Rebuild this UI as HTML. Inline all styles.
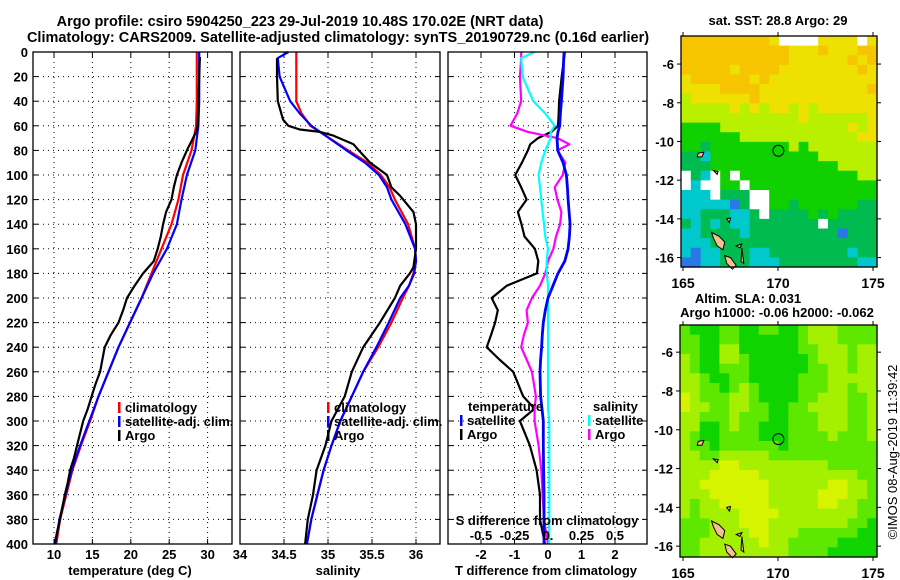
<!DOCTYPE html>
<html><head><meta charset="utf-8"><style>
html,body{margin:0;padding:0;background:#fff;}
svg{display:block;font-family:"Liberation Sans",sans-serif;font-weight:bold;}
</style></head><body>
<svg id="fig" width="900" height="580" viewBox="0 0 900 580" xmlns="http://www.w3.org/2000/svg">
<rect width="900" height="580" fill="#fff"/>
<text x="300" y="26" font-size="14.5" text-anchor="middle">Argo profile: csiro 5904250_223 29-Jul-2019 10.48S 170.02E (NRT data)</text>
<text x="338" y="42" font-size="14.5" text-anchor="middle">Climatology: CARS2009. Satellite-adjusted climatology: synTS_20190729.nc (0.16d earlier)</text>
<text x="778" y="25" font-size="13" text-anchor="middle">sat. SST: 28.8 Argo: 29</text>
<text x="748" y="303" font-size="13" text-anchor="middle">Altim. SLA: 0.031</text>
<text x="777" y="317" font-size="13" text-anchor="middle">Argo h1000: -0.06 h2000: -0.062</text>
<text transform="translate(897,452) rotate(-90)" font-size="13" font-weight="normal" text-anchor="middle">©IMOS 08-Aug-2019 11:39:42</text>
<g id="layer"></g>
</svg>
<script>
// ---- data ----
const depthTicks=[0,20,40,60,80,100,120,140,160,180,200,220,240,260,280,300,320,340,360,380,400];
const tTicks=[10,15,20,25,30];
const sTicks=[34.5,35,35.5,36];
const dtTicks=[-2,-1,0,1,2];
const dsTickLabels=["-0.5","-0.25","0.","0.25","0.5"];
const dsTicks=[-0.5,-0.25,0,0.25,0.5];

const tDepth=[0,20,40,60,70,80,100,120,140,160,180,200,220,240,260,280,300,320,340,360,380,400];
const tClim=[28.6,28.6,28.6,28.5,28.2,27.9,26.8,26.2,25.3,24.0,22.7,21.4,19.9,18.4,17.1,15.8,14.7,13.5,12.4,11.6,10.8,10.3];
const tSat=[28.9,28.9,28.9,28.8,28.6,28.4,27.3,26.6,26.0,24.7,22.9,21.4,19.9,18.4,17.1,15.8,14.6,13.4,12.3,11.5,10.7,10.2];
const argoDepth=[4,20,40,60,65,70,80,90,100,110,120,130,140,150,160,170,180,190,200,210,220,230,240,250,260,270,280,290,300,310,320,330,340,350,360,370,380,390,400];
const tArgo=[29.0,28.9,28.8,28.7,28.5,28.1,27.3,26.6,26.0,25.6,25.3,24.6,24.2,23.9,23.5,23.0,21.6,20.5,19.5,19.0,18.4,17.4,16.6,16.3,16.0,15.4,14.9,14.4,13.8,13.4,13.0,12.6,12.1,11.8,11.4,11.1,10.8,10.4,10.1];

const sDepth=[0,5,20,30,40,50,60,68,80,90,100,110,120,140,160,170,180,190,200,220,240,260,280,300,320,340,360,380,400];
const sClim=[34.64,34.64,34.64,34.64,34.64,34.70,34.80,34.97,35.23,35.45,35.60,35.70,35.76,35.91,35.99,36.0,35.97,35.92,35.85,35.72,35.57,35.40,35.27,35.14,35.04,34.95,34.88,34.81,34.76];
const sSat=[34.55,34.43,34.45,34.51,34.57,34.68,34.81,34.97,35.21,35.42,35.58,35.67,35.72,35.88,35.99,36.0,35.98,35.92,35.82,35.69,35.55,35.40,35.27,35.14,35.04,34.95,34.88,34.81,34.76];
const sArgoDepth=[5,20,40,55,60,63,65,68,75,80,90,100,110,117,130,140,160,175,180,190,200,220,240,260,280,300,320,340,360,380,400];
const sArgo=[34.42,34.42,34.43,34.49,34.55,34.68,34.91,35.06,35.29,35.35,35.48,35.67,35.72,35.82,35.97,36.0,36.0,35.97,35.93,35.82,35.76,35.59,35.40,35.27,35.19,35.04,34.97,34.87,34.83,34.77,34.74];

const dDepth=[0,5,20,40,50,60,65,70,75,80,90,100,110,120,130,140,150,160,170,180,190,200,210,220,230,240,250,260,280,290,300,320,340,360,380,400];
const dTArgo=[0.5,0.48,0.41,0.33,0.32,0.3,0.1,-0.3,-0.53,-0.6,-0.78,-0.98,-0.8,-0.64,-0.9,-0.79,-0.7,-0.39,-0.29,-0.33,-1.23,-1.68,-1.5,-1.58,-1.7,-1.83,-1.45,-1.04,-0.74,-0.4,-0.84,-0.54,-0.34,-0.24,-0.24,-0.09];
const dTSat=[0.48,0.47,0.45,0.4,0.37,0.35,0.3,0.27,0.28,0.29,0.45,0.55,0.58,0.6,0.63,0.66,0.64,0.6,0.5,0.3,0.15,0.0,-0.08,-0.14,-0.17,-0.19,-0.22,-0.24,-0.22,-0.18,-0.14,-0.14,-0.13,-0.12,-0.12,-0.12];
const dSSat=[-0.1,-0.2,-0.19,-0.11,-0.02,0.05,0.02,0.02,0.0,-0.02,-0.05,-0.07,-0.06,-0.05,-0.04,-0.03,-0.02,0.0,-0.01,-0.01,0,0,0,0,0,0,0,0,0,0,0.01,0.01,0.01,0.01,0.01,0.01];
const dSArgo=[-0.2,-0.2,-0.21,-0.2,-0.23,-0.28,-0.15,0.07,0.16,0.07,0.13,0.11,0.05,0.07,0.1,0.09,0.06,0.04,0.0,-0.02,-0.06,-0.12,-0.16,-0.15,-0.18,-0.2,-0.16,-0.12,-0.09,-0.1,-0.1,-0.07,-0.05,-0.04,-0.03,0.0];

const lonTicks=[165,170,175];
const latTicks=[-6,-8,-10,-12,-14,-16];
const argoLon=170.02, argoLat=-10.48;
const sstGrid=[
"OOOOOOOOOYWWWWYYYYWY","OOOOOOOOOOOYYYOYYYOO","OOOOOOOOOOOYYYYYYOYO","OOOOOYOOOOYYYYYYYYOY",
"YOOOOOOYOYYYYYYYYYYY","YYYYOOOOYYYYYYYYYYYO","yYYYYYYOYYYYYYYYYYYY","yyyyyYyYyYYyYyYYYYYY",
"yyyyyyyyyyyyYyyyyyyY","GGGGyyyyyyyyyyyyyYyY","GGGGGGyyyyyyyyyyyyYY","GGgGGGGGGGGyGyyyyyyy",
"ggCGGGGGGGGGGGyyyyyy","gggGGGGGGGGGGGGGyyyy","WgCWGWGGGGGGGGGGGGyy","WCWWGGWGGGGGGGGGGGGG",
"CCCWgggWWGGGGGGGGGGG","CCCCCBgWWGGgGGGGGGgg","CCgggCCgWggggGgGgggg","gCgCgCCgggggggWggggg",
"CCggggCgggggggggBggg","CCCgggggggggggggggg g","CBCCgggCCggggggggCgg","BBCCgggCCCggggggggCC"];
const slaGrid=[
"MDDDMMDDMMDDMLLLMMMM","MMDDMMDDDDDDMLLLMMMM","MMDDLLDDDDDDMMLLLMLL","LMDDLLMDDDDDDMLLLMLL",
"LMDDMMMDDDDDDMMLLMLL","LLMDDMMDDDDDMMMLLLLL","LLMMDMLMDDDDMMMLLMLL","YLMMMLLMDDDDMMLLLMML",
"YLLMMLLMMDDMMLLLLMML","LLMMMLMMMDDMMMLLLMML","LLDDMLMMDDDMMMLLLMML","LMDDMMMMDDDMMMMLMMML",
"LMMDMMMMMMDMMMMMMMMM","LLMMLLLLLMMMMMMMMMMM","LLLLYYLLLLLLLLLMMMMM","LLLYYYYYLLLLLLLLLLMM",
"LLYYYYYYYLLLLLLYYLLM","LLLYYYYYYLLLLLYYYLLM","LMLLYYYYYLLLLLYYLLMM","LMLLLLYYYYLLLLLLLLMM",
"MMMLLLYYYLLLLLLLLMMD","MMMLLLLYYLLLMMMMMMDD","MMLLLLLLYLLMMMMMDDDD","MMLLLLLLLLLMMMMDDDDD"];
const islands=[ // lon,lat pairs
 [[166.5,-14.7],[166.9,-14.9],[167.2,-15.2],[167.1,-15.6],[166.8,-15.4],[166.6,-15.0]],
 [[167.2,-15.9],[167.5,-16.0],[167.8,-16.4],[167.6,-16.6],[167.3,-16.3]],
 [[167.8,-15.4],[168.1,-15.3],[168.0,-15.5]],
 [[165.8,-10.6],[166.1,-10.55],[166.0,-10.8],[165.75,-10.8]],
 [[166.6,-11.5],[166.85,-11.55],[166.8,-11.7]],
 [[167.3,-14.0],[167.5,-13.95],[167.45,-14.2]],
 [[168.1,-15.5],[168.2,-16.3],[168.05,-16.2]]
];
// ---- scales ----
const y0=52, yScale=1.23;
const yD=d=>y0+d*yScale;
const xT=t=>54+(t-10)*7.68;
const xS=s=>240+(s-34)*88;
const xDT=v=>548+v*33.5;
const xDS=v=>548+v*134;
const NS="http://www.w3.org/2000/svg";
const layer=document.getElementById('layer');
function mk(tag,attrs,parent){const e=document.createElementNS(NS,tag);for(const k in attrs)e.setAttribute(k,attrs[k]);(parent||layer).appendChild(e);return e;}
function txt(x,y,s,anchor,size,parent){const e=mk('text',{x:x,y:y,'font-size':size||13,'text-anchor':anchor||'middle'},parent);e.textContent=s;return e;}

// ---- profile panels ----
const panels=[{n:'temperature-panel',x0:33,x1:232},{n:'salinity-panel',x0:240,x1:440},{n:'difference-panel',x0:448,x1:647}];
panels.forEach((p,i)=>{
  const g=mk('g',{});
  
  
  p.g=g;
  depthTicks.forEach((d,k)=>{
    if(k>0&&k<depthTicks.length-1){const l=mk('line',{x1:p.x0,x2:p.x1,y1:yD(d),y2:yD(d),stroke:'#000','stroke-width':1,'stroke-dasharray':'1,4'},g);
      
      }
    mk('line',{x1:p.x0,x2:p.x0+5,y1:yD(d),y2:yD(d),stroke:'#000'},g);
    mk('line',{x1:p.x1-5,x2:p.x1,y1:yD(d),y2:yD(d),stroke:'#000'},g);
  });
});
depthTicks.forEach(d=>{const t=txt(28,yD(d)+5,String(d),'end',13);
  
  });
function vgrid(g,xs,yTop,yBot){xs.forEach(x=>{const l=mk('line',{x1:x,x2:x,y1:yTop,y2:yBot,stroke:'#000','stroke-dasharray':'1,4'},g);
  
  
  mk('line',{x1:x,x2:x,y1:yBot-5,y2:yBot,stroke:'#000'},g);mk('line',{x1:x,x2:x,y1:yTop,y2:yTop+5,stroke:'#000'},g);});}
vgrid(panels[0].g,tTicks.map(xT),y0,yD(400));
vgrid(panels[1].g,sTicks.map(xS),y0,yD(400));
vgrid(panels[2].g,dtTicks.map(xDT),y0,yD(400));
tTicks.forEach(t=>{const e=txt(xT(t),559,String(t));
  
  });
[34].concat(sTicks).forEach(s=>{const e=txt(xS(s),559,String(s));
  
  });
dtTicks.forEach(v=>{const e=txt(xDT(v),559,String(v));
  
  });
dsTicks.forEach((v,i)=>{const e=txt(xDS(v),540,dsTickLabels[i]);
  
  });
let e;
e=txt(130,575,'temperature (deg C)');


e=txt(338,575,'salinity');


e=txt(546,575,'T difference from climatology');


e=txt(547,525,'S difference from climatology');



function series(g,depths,vals,xf,color,w,name){
  const pts=depths.map((d,i)=>xf(vals[i]).toFixed(1)+','+yD(d).toFixed(1)).join(' ');
  const pl=mk('polyline',{points:pts,fill:'none',stroke:color,'stroke-width':w,'stroke-linejoin':'round'},g);
  
  
}
series(panels[0].g,tDepth,tClim,xT,'#f00',2.2,'temperature-climatology-line');
series(panels[0].g,tDepth,tSat,xT,'#00f',2.2,'temperature-satellite-line');
series(panels[0].g,argoDepth,tArgo,xT,'#000',2.2,'temperature-argo-line');
series(panels[1].g,sDepth,sClim,xS,'#f00',2.2,'salinity-climatology-line');
series(panels[1].g,sDepth,sSat,xS,'#00f',2.2,'salinity-satellite-line');
series(panels[1].g,sArgoDepth,sArgo,xS,'#000',2.2,'salinity-argo-line');
series(panels[2].g,dDepth,dTArgo,xDT,'#000',2.2,'t-diff-argo-line');
series(panels[2].g,dDepth,dSArgo,xDS,'#f0f',2.2,'s-diff-argo-line');
series(panels[2].g,dDepth,dSSat,xDS,'#0ff',2.2,'s-diff-satellite-line');
series(panels[2].g,dDepth,dTSat,xDT,'#00f',2.8,'t-diff-satellite-line');
panels.forEach(p=>{const r=mk('rect',{x:p.x0,y:y0,width:p.x1-p.x0,height:yD(400)-y0,fill:'none',stroke:'#000','stroke-width':1.3},p.g);
  
  });

function legend(g,x,y,items,name){
  const lg=mk('g',{},g);
  
  
  items.forEach((it,i)=>{
    if(it[1]) mk('rect',{x:x,y:y+i*14-10,width:2.5,height:11,fill:it[1]},lg);
    const t=txt(x+(it[1]?7:0),y+i*14,it[0],'start',13,lg);
    
    
  });
}
legend(panels[0].g,118,412,[['climatology','#f00'],['satellite-adj. clim.','#00f'],['Argo','#000']],'temperature-legend');
legend(panels[1].g,327,412,[['climatology','#f00'],['satellite-adj. clim.','#00f'],['Argo','#000']],'salinity-legend');
legend(panels[2].g,468,411,[['temperature',null]],'diff-legend-temperature-header');
legend(panels[2].g,460,425,[['satellite','#00f'],['Argo','#000']],'diff-legend-temperature');
legend(panels[2].g,593,411,[['salinity',null]],'diff-legend-salinity-header');
legend(panels[2].g,588,425,[['satellite','#0ff'],['Argo','#f0f']],'diff-legend-salinity');

// ---- maps ----
const colSST={O:'#f7c400',Y:'#eee000',y:'#b8f000',G:'#10d000',g:'#00bc50',C:'#00c8cc',B:'#2a78e8',W:'#ffffff',' ':'#00bc50'};
const colSLA={D:'#10d400',M:'#5ee800',L:'#a4f000',Y:'#d6f400'};
function drawMap(name,x0,y0m,x1,y1m,lat0,pxLat,grid,cols){
  const g=mk('g',{});
  
  
  const lonX=lon=>683+(lon-165)*19;
  const latY=lat=>y0m+(lat0-lat)*pxLat;
  const nr=grid.length,nc=20,cw=(x1-x0)/nc,ch=(y1m-y0m)/nr;
  grid.forEach((row,r)=>{for(let c=0;c<nc;c++){
    mk('rect',{x:(x0+c*cw).toFixed(2),y:(y0m+r*ch).toFixed(2),width:(cw+0.6).toFixed(2),height:(ch+0.6).toFixed(2),fill:cols[row[c]]||cols[Object.keys(cols)[0]]},g);}});
  islands.forEach(isl=>{const p=mk('polygon',{points:isl.map(q=>lonX(q[0]).toFixed(1)+','+latY(q[1]).toFixed(1)).join(' '),fill:'#f5c090',stroke:'#000','stroke-width':1},g);
    
    });
  const c=mk('circle',{cx:lonX(argoLon),cy:latY(argoLat),r:5.5,fill:'none',stroke:'#000','stroke-width':1},g);
  
  
  const fr=mk('rect',{x:x0,y:y0m,width:x1-x0,height:y1m-y0m,fill:'none',stroke:'#000','stroke-width':1.3},g);
  
  
  lonTicks.forEach(lon=>{const x=lonX(lon);mk('line',{x1:x,x2:x,y1:y0m-4,y2:y0m,stroke:'#000'},g);mk('line',{x1:x,x2:x,y1:y1m,y2:y1m+4,stroke:'#000'},g);
    const t=txt(x,y1m+21,String(lon),'middle',14,g);
    
    });
  latTicks.forEach(lat=>{const y=latY(lat);mk('line',{x1:x0-4,x2:x0,y1:y,y2:y,stroke:'#000'},g);mk('line',{x1:x1,x2:x1+4,y1:y,y2:y,stroke:'#000'},g);
    const t=txt(x0-7,y+5,String(lat),'end',13,g);
    
    });
}
drawMap('sst-map',681,36,877,267,-4.55,19.35,sstGrid,colSST);
drawMap('sla-map',680,325,877,557,-4.6,19.4,slaGrid,colSLA);
</script>
</body></html>
